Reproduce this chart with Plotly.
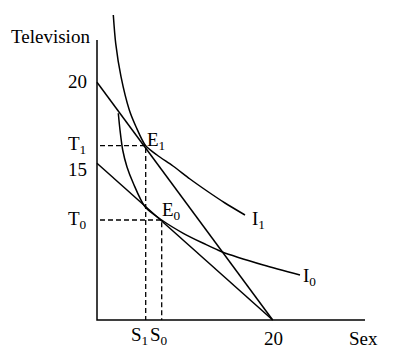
import plotly.graph_objects as go

# Diagram units: origin at the corner of the axes (x to the right, y upward)
axis_x = [0, 0, 268]
axis_y = [280, 0, 0]

budget_high_x = [0, 175.7]
budget_high_y = [237.7, 0]
budget_low_x = [0, 175.7]
budget_low_y = [156.7, 0]

i1_x = [16.3, 18.7, 24, 32.3, 39, 48.5, 60, 76, 93, 110, 128, 148]
i1_y = [305, 276.7, 243.3, 210, 193.3, 174.5, 165, 154, 141, 129, 117, 105]

i0_x = [21.3, 23, 25.7, 30, 36.3, 48, 64.7, 86.3, 106.3, 124.7, 166.3, 203]
i0_y = [206.7, 190, 170, 153, 136.7, 113.3, 100, 86.7, 76.7, 68.3, 55, 45]

e1_guide_x = [3, 48.7, 48.7]
e1_guide_y = [174.3, 174.3, 0]
e0_guide_x = [3, 64.7, 64.7]
e0_guide_y = [100, 100, 0]

# labels: (text, x, y)
labels = [
    ("Television", -47, 283.5),
    ("20", -19.5, 238.5),
    ("T<sub>1</sub>", -20, 175),
    ("15", -19.5, 151),
    ("T<sub>0</sub>", -20, 100),
    ("S<sub>1</sub>", 42.5, -16),
    ("S<sub>0</sub>", 61.5, -16),
    ("20", 176, -18),
    ("Sex", 266.5, -18),
    ("E<sub>1</sub>", 59, 179),
    ("E<sub>0</sub>", 74.5, 109),
    ("I<sub>1</sub>", 161, 100),
    ("I<sub>0</sub>", 212, 43),
]

fig = go.Figure()
solid = dict(color="black", width=1.5)
dash = dict(color="black", width=1.3, dash="5px,3px")

fig.add_trace(go.Scatter(x=axis_x, y=axis_y, mode="lines", line=solid))
fig.add_trace(go.Scatter(x=budget_high_x, y=budget_high_y, mode="lines", line=solid))
fig.add_trace(go.Scatter(x=budget_low_x, y=budget_low_y, mode="lines", line=solid))
fig.add_trace(go.Scatter(x=i1_x, y=i1_y, mode="lines",
                         line=dict(color="black", width=1.5, shape="spline", smoothing=0.8)))
fig.add_trace(go.Scatter(x=i0_x, y=i0_y, mode="lines",
                         line=dict(color="black", width=1.5, shape="spline", smoothing=0.8)))
fig.add_trace(go.Scatter(x=e1_guide_x, y=e1_guide_y, mode="lines", line=dash))
fig.add_trace(go.Scatter(x=e0_guide_x, y=e0_guide_y, mode="lines", line=dash))

for text, x, y in labels:
    fig.add_annotation(x=x, y=y, text=text, showarrow=False,
                       xanchor="center", yanchor="middle",
                       font=dict(family="Liberation Serif", size=19, color="black"))

# the page body has an 8px margin, so the ranges are shifted to compensate
fig.update_layout(
    width=400, height=363,
    margin=dict(l=0, r=0, t=0, b=0),
    paper_bgcolor="white", plot_bgcolor="white",
    showlegend=False,
    xaxis=dict(range=[-89, 311], visible=False, fixedrange=True),
    yaxis=dict(range=[-51, 312], visible=False, fixedrange=True),
)
fig.write_html("out.html")
